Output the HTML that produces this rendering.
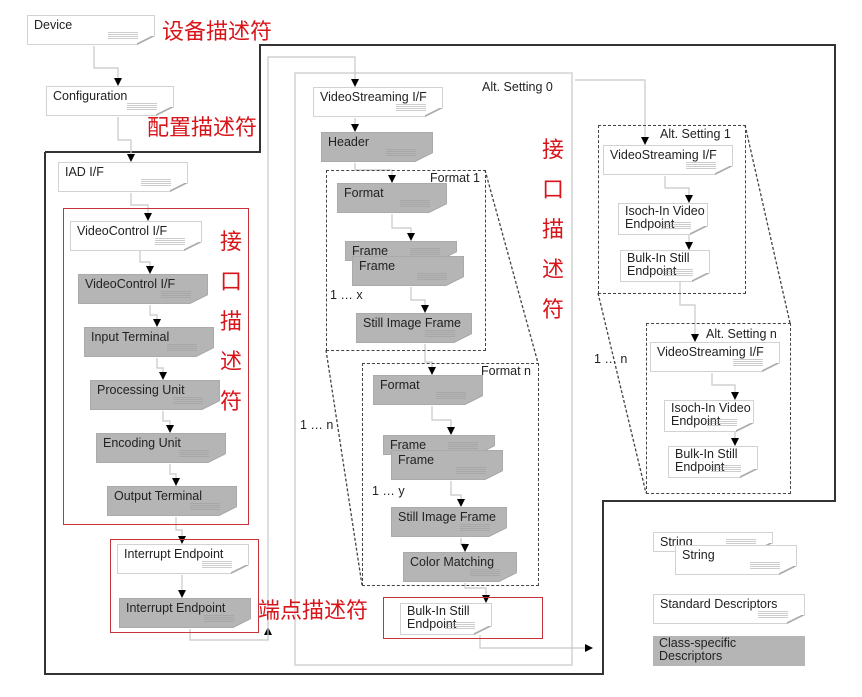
<!DOCTYPE html>
<html><head><meta charset="utf-8"><style>
body{margin:0;width:862px;height:697px;background:#fff;position:relative;overflow:hidden;font-family:"Liberation Sans","DejaVu Sans",sans-serif}
.b{position:absolute;height:30px;border:1px solid #d2d2d2;background:#fff;font-size:12.5px;color:#222;padding:2px 0 0 6px;box-sizing:border-box;line-height:14px}
.g{background:#b5b5b5;border-color:#aaa}
.b::after{content:"";position:absolute;right:-1px;bottom:-1px;width:18px;height:9px;background:linear-gradient(to top left,#fff 50%,#999 50%,#bbb 60%,transparent 61%)}
.b::before{content:"";position:absolute;right:16px;bottom:4px;width:30px;height:8px;background:repeating-linear-gradient(#999 0 1px,transparent 1px 2px);opacity:.5}
.t2{height:32px;line-height:13px;padding-top:1px}
.r{position:absolute;color:#d8151b;font-family:"Liberation Sans","Noto Sans CJK SC",sans-serif;font-size:22px;line-height:22px}
.v{width:24px;text-align:center;line-height:40px}
.l{position:absolute;font-size:12.5px;color:#222}
.rb{position:absolute;border:1px solid #c8323a}
.db{position:absolute;border:1.5px dashed #444}
svg{position:absolute;left:0;top:0}
</style></head><body>
<svg width="862" height="697">
<defs><marker id="a" markerWidth="8" markerHeight="8" refX="7" refY="4" orient="auto" markerUnits="userSpaceOnUse"><path d="M0,0L8,4L0,8z" fill="#000"/></marker></defs>
<rect x="295" y="73" width="277" height="592" fill="none" stroke="#ddd" stroke-width="2"/>
<polyline points="45,152 260,152 260,45 835,45 835,501 603,501 603,674 45,674 45,152" fill="none" stroke="#333" stroke-width="2"/>
<g fill="none" stroke="#c8c8c8" stroke-width="1.2" marker-end="url(#a)">
<polyline points="94,46 94,68 118,68 118,85"/>
<polyline points="118,117 118,140 131,140 131,161"/>
<polyline points="131,193 131,205 148,205 148,220"/>
<polyline points="140,251 140,262 150,262 150,273"/>
<polyline points="150,305 150,315 157,315 157,326"/>
<polyline points="157,358 157,368 163,368 163,379"/>
<polyline points="163,411 163,421 170,421 170,432"/>
<polyline points="170,464 170,474 176,474 176,485"/>
<polyline points="176,517 176,530 182,530 182,543"/>
<polyline points="182,575 182,597"/>
<polyline points="190,629 190,640 268,640 268,628"/>
<polyline points="268,640 268,57 355,57 355,86"/>
<polyline points="355,118 355,131"/>
<polyline points="355,163 355,170 392,170 392,182"/>
<polyline points="392,214 392,228 411,228 411,240"/>
<polyline points="411,287 411,300 425,300 425,312"/>
<polyline points="425,344 425,362 432,362 432,374"/>
<polyline points="432,406 432,420 451,420 451,434"/>
<polyline points="451,481 451,495 461,495 461,506"/>
<polyline points="461,538 461,544 465,544 465,551"/>
<polyline points="465,583 465,588 486,588 486,602"/>
<polyline points="480,635 480,648 592,648"/>
<polyline points="575,80 645,80 645,144"/>
<polyline points="665,176 665,188 689,188 689,202"/>
<polyline points="689,234 689,249"/>
<polyline points="680,281 680,305 695,305 695,341"/>
<polyline points="712,373 712,385 735,385 735,399"/>
<polyline points="735,431 735,445"/>
</g>
<g fill="none" stroke="#444" stroke-width="1.3" stroke-dasharray="3,2">
<line x1="485" y1="170" x2="538" y2="363"/>
<line x1="326" y1="350" x2="362" y2="585"/>
<line x1="745" y1="125" x2="790" y2="323"/>
<line x1="598" y1="293" x2="646" y2="493"/>
</g>
</svg>
<div class="db" style="left:326px;top:170px;width:158px;height:179px"></div>
<div class="db" style="left:362px;top:363px;width:175px;height:221px"></div>
<div class="db" style="left:598px;top:125px;width:146px;height:167px"></div>
<div class="db" style="left:646px;top:323px;width:143px;height:169px"></div>
<div class="rb" style="left:63px;top:208px;width:184px;height:315px"></div>
<div class="rb" style="left:110px;top:539px;width:147px;height:92px"></div>
<div class="rb" style="left:383px;top:597px;width:158px;height:40px"></div>

<div class="b" style="left:27px;top:15px;width:128px">Device</div>
<div class="b" style="left:46px;top:86px;width:128px">Configuration</div>
<div class="b" style="left:58px;top:162px;width:130px">IAD I/F</div>
<div class="b" style="left:70px;top:221px;width:132px">VideoControl I/F</div>
<div class="b g" style="left:78px;top:274px;width:130px">VideoControl I/F</div>
<div class="b g" style="left:84px;top:327px;width:130px">Input Terminal</div>
<div class="b g" style="left:90px;top:380px;width:130px">Processing Unit</div>
<div class="b g" style="left:96px;top:433px;width:130px">Encoding Unit</div>
<div class="b g" style="left:107px;top:486px;width:130px">Output Terminal</div>
<div class="b" style="left:117px;top:544px;width:132px">Interrupt Endpoint</div>
<div class="b g" style="left:119px;top:598px;width:132px">Interrupt Endpoint</div>

<div class="b" style="left:313px;top:87px;width:130px">VideoStreaming I/F</div>
<div class="b g" style="left:321px;top:132px;width:112px">Header</div>
<div class="b g" style="left:337px;top:183px;width:110px">Format</div>
<div class="b g" style="left:345px;top:241px;width:112px;height:20px">Frame</div>
<div class="b g" style="left:352px;top:256px;width:112px">Frame</div>
<div class="b g" style="left:356px;top:313px;width:116px">Still Image Frame</div>
<div class="b g" style="left:373px;top:375px;width:110px">Format</div>
<div class="b g" style="left:383px;top:435px;width:112px;height:20px">Frame</div>
<div class="b g" style="left:391px;top:450px;width:112px">Frame</div>
<div class="b g" style="left:391px;top:507px;width:116px">Still Image Frame</div>
<div class="b g" style="left:403px;top:552px;width:114px">Color Matching</div>
<div class="b t2" style="left:400px;top:603px;width:92px">Bulk-In Still<br>Endpoint</div>

<div class="b" style="left:603px;top:145px;width:130px">VideoStreaming I/F</div>
<div class="b t2" style="left:618px;top:203px;width:90px">Isoch-In Video<br>Endpoint</div>
<div class="b t2" style="left:620px;top:250px;width:90px">Bulk-In Still<br>Endpoint</div>
<div class="b" style="left:650px;top:342px;width:130px">VideoStreaming I/F</div>
<div class="b t2" style="left:664px;top:400px;width:90px">Isoch-In Video<br>Endpoint</div>
<div class="b t2" style="left:668px;top:446px;width:90px">Bulk-In Still<br>Endpoint</div>

<div class="b" style="left:653px;top:532px;width:120px;height:20px">String</div>
<div class="b" style="left:675px;top:545px;width:122px">String</div>
<div class="b" style="left:653px;top:594px;width:152px;height:30px;">Standard Descriptors</div>
<div class="l" style="left:653px;top:636px;width:152px;height:30px;background:#b5b5b5;padding:1px 6px;box-sizing:border-box;line-height:13px">Class-specific<br>Descriptors</div>

<div class="l" style="left:482px;top:80px">Alt. Setting 0</div>
<div class="l" style="left:430px;top:171px">Format 1</div>
<div class="l" style="left:481px;top:364px">Format n</div>
<div class="l" style="left:660px;top:127px">Alt. Setting 1</div>
<div class="l" style="left:706px;top:327px">Alt. Setting n</div>
<div class="l" style="left:330px;top:288px">1 … x</div>
<div class="l" style="left:300px;top:418px">1 … n</div>
<div class="l" style="left:372px;top:484px">1 … y</div>
<div class="l" style="left:594px;top:352px">1 … n</div>

<div class="r" style="left:162px;top:21px">设备描述符</div>
<div class="r" style="left:147px;top:117px">配置描述符</div>
<div class="r" style="left:258px;top:600px">端点描述符</div>
<div class="r v" style="left:219px;top:222px">接<br>口<br>描<br>述<br>符</div>
<div class="r v" style="left:541px;top:130px">接<br>口<br>描<br>述<br>符</div>
</body></html>
